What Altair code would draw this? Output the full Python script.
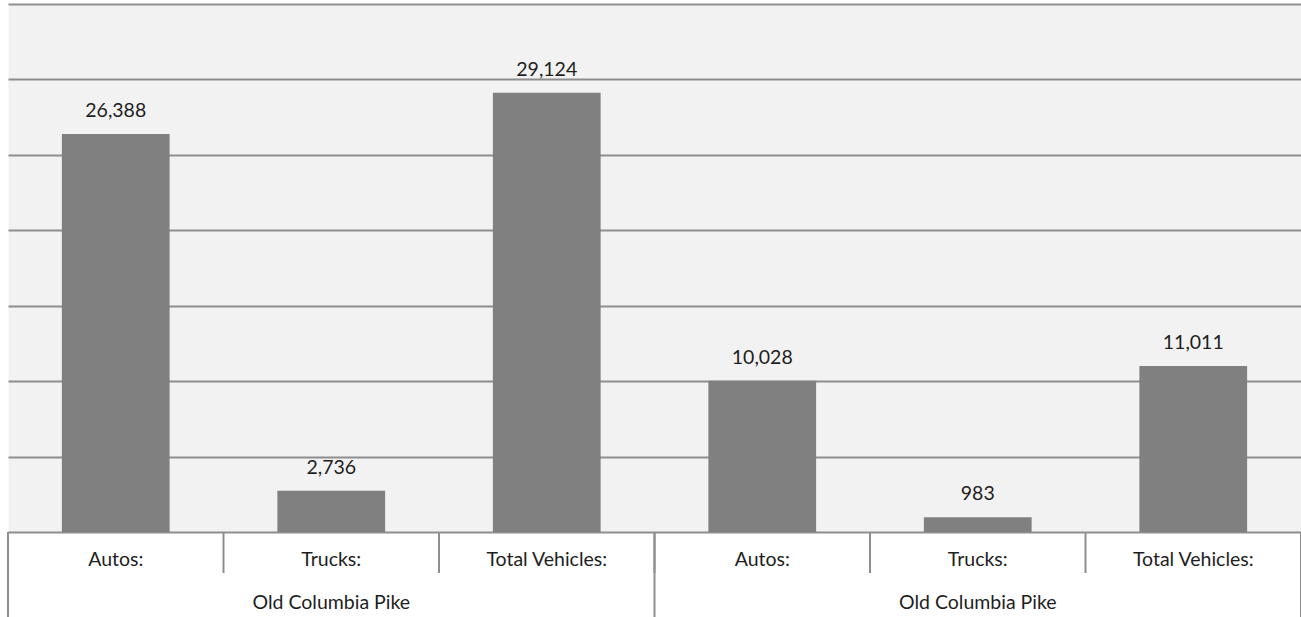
import altair as alt
import pandas as pd

# ---- data ----
categories = ["Autos:", "Trucks:", "Total Vehicles:", "Autos:", "Trucks:", "Total Vehicles:"]
values = [26388, 2736, 29124, 10028, 983, 11011]
groups = ["Old Columbia Pike", "Old Columbia Pike"]
group_size = 3
y_ticks = [0, 5000, 10000, 15000, 20000, 25000, 30000, 35000]

FONT = "Lato"
FS = 19.5
GRID = "#8e8e8e"
TEXT = "#1e1e1e"

bars_df = pd.DataFrame({"idx": list(range(len(categories))), "category": categories, "value": values})
group_df = pd.DataFrame({"gidx": list(range(len(groups))), "group": groups})
sep1_df = pd.DataFrame({"b": list(range(len(categories) + 1))})
sep2_df = pd.DataFrame({"b": [g * group_size for g in range(len(groups) + 1)]})

x_scale = alt.Scale(domain=[0, len(categories)], nice=False, zero=False)
y_scale = alt.Scale(domain=[y_ticks[0], y_ticks[-1]], nice=False)

base = alt.Chart(bars_df).transform_calculate(
    x0="datum.idx + 0.25", x1="datum.idx + 0.75", xc="datum.idx + 0.5"
)

bars = base.mark_bar(color="#808080").encode(
    x=alt.X("x0:Q", scale=x_scale, axis=None),
    x2="x1:Q",
    y=alt.Y(
        "value:Q",
        scale=y_scale,
        axis=alt.Axis(
            values=y_ticks, grid=True, labels=False, ticks=False, domain=False,
            title=None, gridColor=GRID, gridWidth=2,
        ),
    ),
    y2=alt.datum(0),
)

value_labels = base.mark_text(
    font=FONT, fontSize=FS, color=TEXT, baseline="alphabetic", dy=-17
).encode(
    x=alt.X("xc:Q", scale=x_scale),
    y=alt.Y("value:Q", scale=y_scale),
    text=alt.Text("value:Q", format=","),
)

cat_labels = base.mark_text(
    font=FONT, fontSize=FS, color=TEXT, baseline="middle"
).encode(
    x=alt.X("xc:Q", scale=x_scale),
    y=alt.value(556),
    text="category:N",
)

group_labels = alt.Chart(group_df).transform_calculate(
    xc=f"datum.gidx * {group_size} + {group_size / 2}"
).mark_text(font=FONT, fontSize=FS, color=TEXT, baseline="middle").encode(
    x=alt.X("xc:Q", scale=x_scale),
    y=alt.value(599),
    text="group:N",
)

sep1 = alt.Chart(sep1_df).mark_rule(color=GRID, strokeWidth=2).encode(
    x=alt.X("b:Q", scale=x_scale),
    y=alt.value(528),
    y2=alt.value(569),
)

sep2 = alt.Chart(sep2_df).mark_rule(color=GRID, strokeWidth=2).encode(
    x=alt.X("b:Q", scale=x_scale),
    y=alt.value(528),
    y2=alt.value(613),
)

chart = (
    alt.layer(bars, value_labels, cat_labels, group_labels, sep1, sep2)
    .properties(
        width=1293,
        height=528,
        background="white",
        autosize=alt.AutoSizeParams(type="none"),
        padding={"left": 8, "top": 4, "right": 0, "bottom": 85},
    )
    .configure_view(fill="#f2f2f2", stroke="transparent")
)

chart.save("out.html", embed_options={"renderer": "svg", "actions": False})
